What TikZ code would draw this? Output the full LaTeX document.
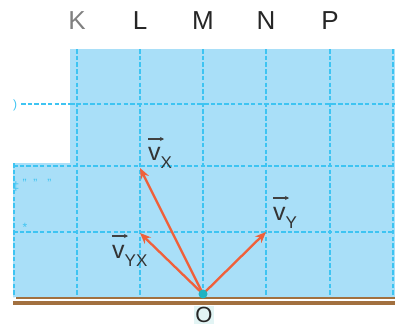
\documentclass[tikz,border=0pt]{standalone}
\usepackage{fontspec}
\setmainfont{Liberation Sans}
\usetikzlibrary{arrows.meta,calc}
\definecolor{skyfill}{HTML}{A9DFF8}
\definecolor{gridc}{HTML}{3EC4F2}
\definecolor{railc}{HTML}{A2703F}
\definecolor{vecc}{HTML}{F0603A}
\definecolor{dotc}{HTML}{1FB3C2}
\definecolor{olabc}{HTML}{E2F4F4}
\newcommand\vsub[1]{{\fontsize{25}{25}\selectfont v}\raisebox{-8pt}{\fontsize{17}{17}\selectfont #1}}
\begin{document}
\begin{tikzpicture}[x=1pt,y=-1pt,
  gridline/.style={gridc, line width=2.6pt, dash pattern=on 4.5pt off 2.2pt},
  colname/.style={font=\fontsize{26}{26}\selectfont, text=black!85, anchor=base, inner sep=0pt},
  vel/.style={vecc, line width=2.3pt, -{Stealth[length=11pt,width=9pt]}},
  vlab/.style={anchor=base west, inner sep=0pt, text=black!80},
  ovec/.style={black!75, line width=1.3pt, -{Stealth[length=4pt,width=4pt]}},
  junk/.style={text=gridc, inner sep=0pt, font=\fontsize{12}{12}\selectfont}
]
\useasboundingbox (0,0) rectangle (395,329);
% water region
\fill[skyfill] (70,49) -- (395,49) -- (395,297) -- (13,297) -- (13,163) -- (70,163) -- cycle;
% grid
\foreach \gx in {77,140,203,266,330,393}
  \draw[gridline] (\gx,49) -- (\gx,297);
\draw[gridline] (14,163) -- (14,297);
\draw[gridline] (70,104) -- (395,104);
\draw[gridline] (13,166) -- (395,166);
\draw[gridline] (13,232) -- (395,232);
% stray marks on the left
\draw[gridline] (21,104) -- (70,104);
\node[junk] (j1) at (15,105) {)};
\node[junk] (j2) at (37,183) {" \ " \ \ "};
\node[junk] (j3) at (16,187) {‡};
\node[junk] (j4) at (25,227) {*};
% bank
\draw[railc, line width=2pt] (16,298) -- (395,298);
\draw[railc, line width=3.5pt] (13,303) -- (395,303);
% column names
\node[colname, text=black!50] (K) at (77,30) {K};
\node[colname] (L) at (140,30) {L};
\node[colname] (M) at (203,30) {M};
\node[colname] (N) at (266,30) {N};
\node[colname] (P) at (330,30) {P};
% velocities
\coordinate (O) at (203,294);
\coordinate (tX) at (140,168);
\coordinate (tYX) at (140,233);
\coordinate (tY) at (266,232);
\draw[vel] (O) -- (tX);
\draw[vel] (O) -- (tYX);
\draw[vel] (O) -- (tY);
\fill[dotc] (O) circle (4.5);
\node[fill=olabc, inner sep=1pt, font=\fontsize{22}{22}\selectfont, text=black!85] (Olab) at (204,315) {O};
% labels
\node[vlab] (vx) at (148,160) {\vsub{X}};
\node[vlab] (vyx) at (112,258) {\vsub{YX}};
\node[vlab] (vy) at (273,220) {\vsub{Y}};
\draw[ovec] ($(vx.base west)+(0,-21)$) -- ++(16,0);
\draw[ovec] ($(vyx.base west)+(0,-22)$) -- ++(16,0);
\draw[ovec] ($(vy.base west)+(0,-22)$) -- ++(16,0);
\end{tikzpicture}
\end{document}
